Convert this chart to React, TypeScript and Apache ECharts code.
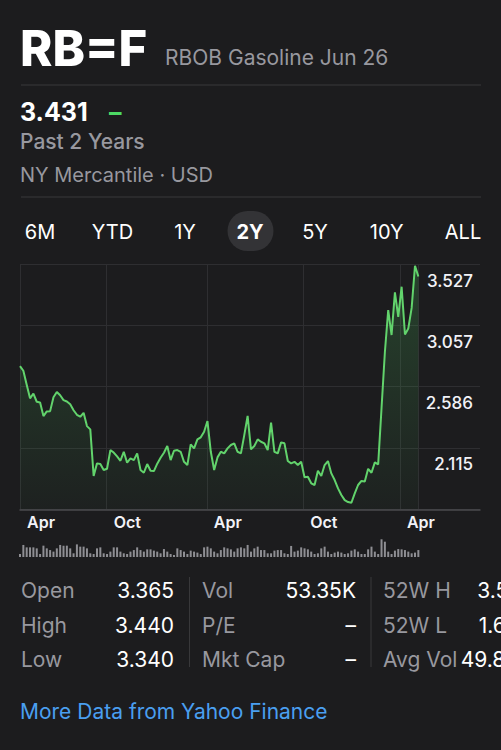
import React, { useEffect, useRef } from 'react';
import * as echarts from 'echarts';

// ---- data ----
const prices = [
  2.744, 2.708, 2.6, 2.496, 2.533, 2.47, 2.465, 2.36, 2.396, 2.398,
  2.505, 2.545, 2.52, 2.483, 2.472, 2.45, 2.405, 2.37, 2.355, 2.385,
  2.283, 2.258, 1.9, 1.997, 1.992, 1.946, 1.956, 2.099, 2.08, 2.05,
  2.017, 2.086, 2.002, 2.035, 2.022, 2.074, 1.946, 1.925, 1.992, 1.94,
  1.938, 1.995, 2.04, 2.079, 2.13, 2.022, 2.094, 2.099, 2.086, 2.009,
  1.984, 2.143, 2.112, 2.181, 2.197, 2.24, 2.322, 2.086, 1.946, 2.043,
  2.086, 2.074, 2.112, 2.138, 2.151, 2.086, 2.074, 2.214, 2.362, 2.105,
  2.13, 2.181, 2.163, 2.151, 2.099, 2.309, 2.086, 2.074, 2.158, 2.151,
  2.015, 1.997, 2.009, 1.984, 2.009, 1.89, 1.894, 1.844, 1.831, 1.94,
  1.9, 1.984, 2.015, 1.92, 1.869, 1.805, 1.754, 1.715, 1.7, 1.695,
  1.767, 1.831, 1.862, 1.858, 1.955, 1.925, 2.005, 1.989, 2.42, 2.85,
  3.174, 2.982, 3.31, 3.122, 3.353, 2.987, 3.033, 3.19, 3.514, 3.431,
];

// volume in thousands of contracts
const volumes = [
  21, 85, 68, 68, 68, 61, 21, 80, 61, 49,
  38, 61, 85, 80, 80, 61, 26, 89, 73, 73,
  61, 26, 21, 61, 68, 26, 21, 38, 68, 68,
  38, 26, 21, 38, 49, 68, 49, 38, 54, 54,
  45, 38, 26, 56, 38, 21, 14, 61, 49, 38,
  21, 45, 38, 31, 21, 68, 73, 61, 38, 26,
  49, 68, 61, 54, 38, 61, 68, 61, 85, 38,
  61, 73, 49, 49, 26, 26, 45, 49, 49, 26,
  21, 78, 38, 45, 68, 61, 54, 38, 21, 26,
  61, 73, 38, 21, 31, 38, 31, 21, 26, 45,
  54, 38, 21, 21, 54, 73, 38, 21, 125, 108,
  38, 21, 45, 56, 54, 49, 38, 26, 31, 49,
];

const yTickLabels = ['1.644', '2.115', '2.586', '3.057', '3.527'];
const Y_MIN = 1.6445;
const Y_STEP = 0.4707;

// sample index at which each month boundary falls
const monthTickIndex = [0, 25.9, 55.8, 84.6, 113.5];
const monthTickLabels = ['Apr', 'Oct', 'Apr', 'Oct', 'Apr'];

const ranges = ['6M', 'YTD', '1Y', '2Y', '5Y', '10Y', 'ALL'];
const activeRange = '2Y';

const statsLabels = [
  ['Open', 'High', 'Low'],
  ['Vol', 'P/E', 'Mkt Cap'],
  ['52W H', '52W L', 'Avg Vol'],
];
const statsValues = [
  ['3.365', '3.440', '3.340'],
  ['53.35K', '–', '–'],
  ['3.527', '1.644', '49.84K'],
];

const symbol = 'RB=F';
const name = 'RBOB Gasoline Jun 26';
const lastPrice = '3.431';
const period = 'Past 2 Years';
const exchange = 'NY Mercantile · USD';
const linkText = 'More Data from Yahoo Finance';

const FONT = 'Inter, "Noto Sans", sans-serif';
const GRAY = '#98989f';
const WHITE = '#ffffff';
const DIV = '#38383a';
const GREEN = '#62d36c';

export default function App() {
  const ref = useRef<HTMLDivElement>(null);
  useEffect(() => {
    document.body.style.margin = '0';
    const chart = echarts.init(ref.current!, null, { renderer: 'svg' });
    const lastIdx = prices.length - 1;
    const xMax = lastIdx * (460 / 398.35);

    const rangeX = [40, 112.5, 185, 250, 315, 386.7, 463];
    const graphic: any[] = [];
    const txt = (text: string, x: number, y: number, size: number, weight: any, fill: string, align = 'left') => ({
      type: 'text',
      x,
      y,
      silent: true,
      style: { text, fill, fontSize: size, fontWeight: weight, fontFamily: FONT, align, verticalAlign: 'middle' },
    });
    graphic.push(txt(symbol, 20, 48, 49, 800, WHITE));
    graphic.push(txt(name, 165, 57.5, 21, 400, GRAY));
    graphic.push({ type: 'line', shape: { x1: 21, y1: 85, x2: 481, y2: 85 }, style: { stroke: DIV, lineWidth: 1 } });
    graphic.push(txt(lastPrice, 20, 112, 25, 700, WHITE));
    graphic.push(txt('–', 109, 112, 25, 700, '#4cd964'));
    graphic.push(txt(period, 20, 141, 21, 500, GRAY));
    graphic.push(txt(exchange, 20, 174.5, 20, 400, GRAY));
    graphic.push({ type: 'line', shape: { x1: 21, y1: 197, x2: 481, y2: 197 }, style: { stroke: DIV, lineWidth: 1 } });
    graphic.push({ type: 'rect', shape: { x: 227.5, y: 211, width: 46, height: 40, r: 20 }, style: { fill: '#333336' } });
    ranges.forEach((r, i) => {
      graphic.push(txt(r, rangeX[i], 232, 20, r === activeRange ? 700 : 400, WHITE, 'center'));
    });
    const colLabelX = [21, 202, 383];
    const colValueX = [174, 356, 533];
    const rowY = [590.5, 625, 659.5];
    statsLabels.forEach((col, c) => {
      col.forEach((lab, r) => {
        graphic.push(txt(lab, colLabelX[c], rowY[r], 21, 400, GRAY));
        graphic.push(txt(statsValues[c][r], colValueX[c], rowY[r], 21, 400, WHITE, 'right'));
      });
    });
    [189.5, 371].forEach((x) =>
      graphic.push({ type: 'line', shape: { x1: x, y1: 577, x2: x, y2: 667 }, style: { stroke: DIV, lineWidth: 1 } })
    );
    graphic.push(txt(linkText, 20, 711, 21, 400, '#4a9ff0'));

    chart.setOption({
      animation: false,
      backgroundColor: '#1c1c1e',
      graphic,
      grid: [
        { left: 20, width: 460, top: 264, height: 245.3 },
        { left: 20, width: 460, top: 539, height: 18 },
      ],
      xAxis: [
        {
          type: 'value',
          gridIndex: 0,
          min: 0,
          max: xMax,
          axisLine: { show: true, lineStyle: { color: '#4a4a4d', width: 1.5 } },
          axisTick: { show: false, customValues: [...monthTickIndex, lastIdx] },
          splitLine: { show: true, lineStyle: { color: '#2e2e31', width: 1 } },
          axisLabel: {
            customValues: monthTickIndex,
            formatter: (v: number) => {
              let best = 0;
              monthTickIndex.forEach((m, i) => {
                if (Math.abs(m - v) < Math.abs(monthTickIndex[best] - v)) best = i;
              });
              return monthTickLabels[best];
            },
            align: 'left',
            padding: [0, 0, 0, 7],
            margin: 5,
            color: '#f2f2f7',
            fontSize: 16,
            fontWeight: 600,
            fontFamily: FONT,
          },
        },
        {
          type: 'value',
          gridIndex: 1,
          min: 0,
          max: xMax,
          show: false,
          splitLine: { show: false },
        },
      ],
      yAxis: [
        {
          type: 'value',
          gridIndex: 0,
          position: 'right',
          min: Y_MIN,
          max: Y_MIN + 4 * Y_STEP,
          interval: Y_STEP,
          axisLine: { show: false },
          axisTick: { show: false },
          splitLine: { show: true, lineStyle: { color: '#2e2e31', width: 1 } },
          axisLabel: {
            inside: true,
            showMinLabel: false,
            margin: 7,
            formatter: (_v: number, i: number) => yTickLabels[i] ?? '',
            verticalAlign: 'top',
            padding: [8, 0, 0, 0],
            color: '#f2f2f7',
            fontSize: 17,
            fontWeight: 500,
            fontFamily: FONT,
          },
        },
        { type: 'value', gridIndex: 1, min: 0, max: 127, show: false, splitLine: { show: false } },
      ],
      series: [
        {
          type: 'line',
          xAxisIndex: 0,
          yAxisIndex: 0,
          data: prices.map((p, i) => [i, p]),
          symbol: 'none',
          lineStyle: { color: GREEN, width: 2 },
          areaStyle: {
            origin: 'start',
            color: new echarts.graphic.LinearGradient(0, 0, 0, 1, [
              { offset: 0, color: 'rgba(80,210,100,0.30)' },
              { offset: 1, color: 'rgba(80,210,100,0.04)' },
            ]),
          },
        },
        {
          type: 'bar',
          xAxisIndex: 1,
          yAxisIndex: 1,
          data: volumes.map((v, i) => [i, v]),
          barWidth: 2,
          clip: false,
          itemStyle: { color: '#8e8e93' },
        },
      ],
    });
    return () => chart.dispose();
  }, []);
  return <div ref={ref} style={{ position: 'fixed', left: 0, top: 0, width: 501, height: 750 }} />;
}
